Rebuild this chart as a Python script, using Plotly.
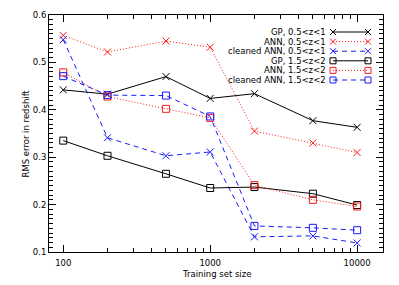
import plotly.graph_objects as go

# training set sizes
sizes = [100, 200, 500, 1000, 2000, 5000, 10000]

# RMS error in redshift
gp_lo = [0.442, 0.433, 0.470, 0.424, 0.434, 0.377, 0.363]
ann_lo = [0.557, 0.522, 0.545, 0.532, 0.355, 0.330, 0.310]
clean_lo = [0.548, 0.341, 0.303, 0.311, 0.132, 0.134, 0.119]
gp_hi = [0.335, 0.303, 0.265, 0.235, 0.237, 0.223, 0.199]
ann_hi = [0.479, 0.428, 0.402, 0.383, 0.241, 0.210, 0.196]
clean_hi = [0.471, 0.431, 0.430, 0.386, 0.155, 0.151, 0.146]

labels = ["GP, 0.5&lt;z&lt;1", "ANN, 0.5&lt;z&lt;1", "cleaned ANN, 0.5&lt;z&lt;1",
          "GP, 1.5&lt;z&lt;2", "ANN, 1.5&lt;z&lt;2", "cleaned ANN, 1.5&lt;z&lt;2"]

series = [gp_lo, ann_lo, clean_lo, gp_hi, ann_hi, clean_hi]
colors = ["#000000", "#ff1a1a", "#1a1aff", "#000000", "#ff1a1a", "#1a1aff"]
dashes = ["solid", "1px,2px", "5px,4px", "solid", "1px,2px", "5px,4px"]
symbols = ["x-thin-open"] * 3 + ["square-open"] * 3
FONT = "DejaVu Sans, Arial, sans-serif"

fig = go.Figure()
for vals, c, d, s in zip(series, colors, dashes, symbols):
    fig.add_trace(go.Scatter(
        x=sizes, y=vals, mode="lines+markers",
        line=dict(color=c, width=1, dash=d),
        marker=dict(symbol=s, size=7,
                    color=c, line=dict(color=c, width=1)),
        showlegend=False))

# legende faite main (texte a gauche, echantillon a droite), axes en pixels du cadre
for i, (lab, c, d, s) in enumerate(zip(labels, colors, dashes, symbols)):
    yy = 17 + i * 9.6
    fig.add_trace(go.Scatter(
        x=[284, 319], y=[yy, yy], xaxis="x2", yaxis="y2", mode="lines+markers",
        line=dict(color=c, width=1, dash=d),
        marker=dict(symbol=s, size=6,
                    color=c, line=dict(color=c, width=1)),
        showlegend=False, hoverinfo="skip"))
    fig.add_annotation(x=279, y=yy, xref="x2", yref="y2", text=lab,
                       showarrow=False, xanchor="right", yanchor="middle",
                       font=dict(size=8.5, color="#000000", family=FONT))

# titres des axes
fig.add_annotation(x=0.5, y=0, xref="paper", yref="paper", text="Training set size",
                   showarrow=False, yanchor="middle", yshift=-22,
                   font=dict(size=8.5, family=FONT))
fig.add_annotation(x=0, y=0.5, xref="paper", yref="paper", text="RMS error in redshift",
                   showarrow=False, xanchor="center", textangle=-90, xshift=-24,
                   font=dict(size=8.5, family=FONT))

axis_style = dict(showgrid=False, zeroline=False, showline=True, automargin=False,
                  linecolor="#000000", linewidth=1, mirror="allticks",
                  ticks="inside", ticklen=7, tickcolor="#000000", tickwidth=1,
                  tickfont=dict(size=8.5, color="#000000", family=FONT))

# la page html ajoute 8px de marge : on compense
fig.update_layout(
    width=391, height=277,
    margin=dict(l=41, r=16, t=7, b=33),
    paper_bgcolor="white", plot_bgcolor="white",
    font=dict(family=FONT, color="#000000"),
    xaxis=dict(type="log", range=[1.903, 4.176],
               tickvals=[100, 1000, 10000], ticktext=["100", "1000", "10000"],
               minor=dict(tickvals=[200, 300, 400, 500, 600, 700, 800, 900,
                                    2000, 3000, 4000, 5000, 6000, 7000, 8000, 9000],
                          ticklen=4, tickcolor="#000000", ticks="inside"),
               ticklabelstandoff=3,
               **axis_style),
    yaxis=dict(range=[0.1, 0.6], tickvals=[0.1, 0.2, 0.3, 0.4, 0.5, 0.6],
               ticktext=["0.1", "0.2", "0.3", "0.4", "0.5", "0.6"],
               minor=dict(dtick=0.01, ticklen=4, tickcolor="#000000", ticks="inside"),
               **axis_style),
    xaxis2=dict(range=[0, 334], overlaying="x", visible=False, fixedrange=True),
    yaxis2=dict(range=[237, 0], overlaying="y", visible=False, fixedrange=True),
)

fig.write_html("out.html")
